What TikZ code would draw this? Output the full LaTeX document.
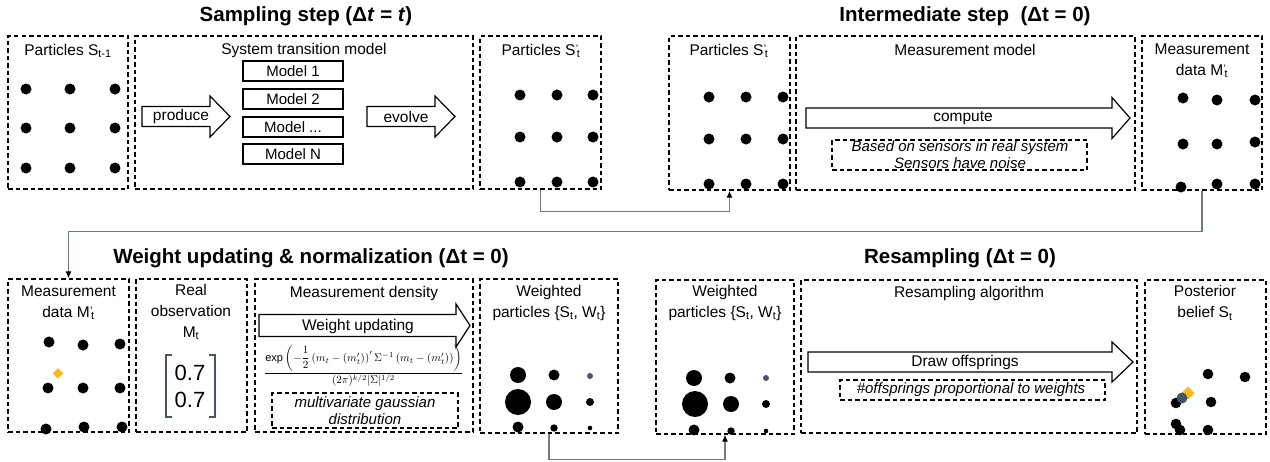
\documentclass[tikz,border=0pt]{standalone}
\usepackage{fontspec}
\setmainfont{Liberation Sans}
\usepackage{graphicx}
\usetikzlibrary{arrows.meta}
\definecolor{slate}{HTML}{44546A}
\definecolor{orng}{HTML}{FFB81C}
\definecolor{conngray}{HTML}{6E7A86}
\newcommand{\primesub}{\kern0.3pt\raisebox{-2.5pt}{\textsuperscript{’}}\kern-1.8pt\textsubscript{t}}
\newcommand{\barrowpath}[6]{\draw[barrow] (#1,#4-#5) -- (#2,#4-#5) -- (#2,#4-#6) -- (#3,#4) -- (#2,#4+#6) -- (#2,#4+#5) -- (#1,#4+#5) -- cycle;}
\newcommand{\dboxat}[5]{\node[dbox,minimum width=#3pt,minimum height=#4pt] (#5) at (#1+#3/2,#2+#4/2) {};}
\newcommand{\sboxat}[5]{\node[sbox,minimum width=#3pt,minimum height=#4pt] (#5) at (#1+#3/2,#2+#4/2) {};}
\begin{document}
\begin{tikzpicture}[x=1pt,y=-1pt,
  dbox/.style={draw, line width=1.3pt, dash pattern=on 4.5pt off 3pt, inner sep=0pt},
  sbox/.style={draw, line width=1.2pt, dash pattern=on 4.5pt off 3pt, inner sep=0pt},
  mbox/.style={draw, line width=1.2pt, inner sep=0pt, minimum width=100pt, minimum height=20pt, font=\fontsize{15}{18}\selectfont},
  barrow/.style={draw, line width=1.2pt, fill=white},
  lbl/.style={inner sep=0pt, align=center, font=\fontsize{15.5}{21}\selectfont},
  ttl/.style={inner sep=0pt, font=\bfseries\fontsize{20.5}{24}\selectfont},
  itl/.style={inner sep=0pt, align=center, font=\itshape\fontsize{15}{17}\selectfont},
  conn/.style={draw=conngray, line width=1.2pt, -{Latex[length=7pt,width=6pt,color=black]}},
  dot/.style={fill=black}
]
\fill[white] (0,0) rectangle (1270,461);
\useasboundingbox (0,0) rectangle (1270,461);

% titles
\node[ttl] (t1) at (306,16) {Sampling step (Δ\textit{t} = \textit{t})};
\node[ttl] (t2) at (965,16) {Intermediate step\ \ (Δt = 0)};
\node[ttl] (t3) at (311,258) {Weight updating \& normalization (Δt = 0)};
\node[ttl] (t4) at (960,258) {Resampling (Δt = 0)};

% top row boxes
\dboxat{8}{36}{120}{153}{A}
\dboxat{135}{36}{338}{153}{B}
\dboxat{480}{36}{121}{153}{C}
\dboxat{669}{36}{121}{154}{D}
\dboxat{796}{36}{339}{154}{E}
\dboxat{1142}{36}{120}{154}{F}
% bottom row boxes
\dboxat{8}{279}{121}{153}{G}
\dboxat{136}{279}{111}{153}{H}
\dboxat{255}{279}{218}{153}{I}
\dboxat{480}{279}{138}{154}{J}
\dboxat{656}{280}{138}{154}{K}
\dboxat{801}{280}{336}{153}{L}
\dboxat{1145}{280}{121}{154}{M}

% headers
\node[lbl] (hA) at (68,51) {Particles S\textsubscript{t-1}};
\node[lbl] (hB) at (304,50) {System transition model};
\node[lbl] (hC) at (541,51) {Particles S\primesub};
\node[lbl] (hD) at (729,51) {Particles S\primesub};
\node[lbl] (hE) at (965,50) {Measurement model};
\node[lbl] (hF) at (1202,61) {Measurement\\data M\primesub};
\node[lbl] (hG) at (68.5,303) {Measurement\\data M\primesub};
\node[lbl] (hH) at (191,312) {Real\\observation\\M\textsubscript{t}};
\node[lbl] (hI) at (364,293) {Measurement density};
\node[lbl] (hJ) at (549,303) {Weighted\\particles \{S\textsubscript{t}, W\textsubscript{t}\}};
\node[lbl] (hK) at (725,303) {Weighted\\particles \{S\textsubscript{t}, W\textsubscript{t}\}};
\node[lbl] (hL) at (969,293) {Resampling algorithm};
\node[lbl] (hM) at (1205,303) {Posterior\\belief S\textsubscript{t}};

% models
\node[mbox] (m1) at (293,71) {Model 1};
\node[mbox] (m2) at (293,99) {Model 2};
\node[mbox] (m3) at (293,127) {Model ...};
\node[mbox] (m4) at (293,154) {Model N};

% block arrows
\barrowpath{142}{210}{230}{116.5}{10}{20.5}
\node[lbl] (aprod) at (181,116.5) {produce};
\barrowpath{367}{435}{455}{116.5}{10}{20.5}
\node[lbl] (aevol) at (406,116.5) {evolve};
\barrowpath{806}{1112}{1130}{118}{10}{20.5}
\node[lbl] (acomp) at (963,118) {compute};
\barrowpath{259}{456}{470}{325.5}{11}{21.5}
\node[lbl] (aweig) at (358,326) {Weight updating};
\barrowpath{808}{1112}{1133}{362}{10}{20}
\node[lbl] (adraw) at (965,362) {Draw offsprings};

% sub boxes
\sboxat{832}{140}{255}{30}{sens}
\node[itl] (tsens) at (960,155) {Based on sensors in real system\\Sensors have noise};
\sboxat{272}{393}{186}{35}{mvg}
\node[itl] (tmvg) at (365,410.5) {multivariate gaussian\\distribution};
\sboxat{840}{380}{265}{20}{offs}
\node[itl] (toffs) at (971,389.5) {\#offsprings proportional to weights};

% formula
\node[inner sep=0pt] (form) at (363.5,366) {\resizebox{199pt}{!}{$\displaystyle\frac{\exp\left(-{\displaystyle\frac{1}{2}}\left(m_t-(m'_t)\right)'\Sigma^{-1}\left(m_t-(m'_t)\right)\right)}{(2\pi)^{k/2}|\Sigma|^{1/2}}$}};

% matrix
\draw[slate, line width=1.2pt] (172,355) -- (166,355) -- (166,417) -- (172,417);
\draw[slate, line width=1.2pt] (209,355) -- (215,355) -- (215,417) -- (209,417);
\node[inner sep=0pt, font=\fontsize{22}{24}\selectfont] (v1) at (190,373) {0.7};
\node[inner sep=0pt, font=\fontsize{22}{24}\selectfont] (v2) at (190,400) {0.7};

% dots A
\foreach \x in {26,70,115} \foreach \y in {89,128,168} \fill[dot] (\x,\y) circle (5.5pt);
% dots C
\foreach \x in {520,557,593} \foreach \y in {95,137,182} \fill[dot] (\x,\y) circle (5.5pt);
% dots D
\foreach \x in {709,746,783} \foreach \y in {97,139,184} \fill[dot] (\x,\y) circle (5.5pt);
% dots F
\foreach \p in {(1183,98),(1217,100),(1255,100),(1183,144),(1217,144),(1255,142),(1181,187),(1217,184),(1255,184)} \fill[dot] \p circle (5.5pt);
% dots G
\foreach \p in {(49,342),(83,345),(120,344),(48,388),(83,388),(120,388),(46,429),(84,427),(122,427)} \fill[dot] \p circle (5.5pt);
\fill[orng] (58,368) -- (63.3,373.3) -- (58,378.6) -- (52.7,373.3) -- cycle;
% dots J
\fill[dot] (518,375) circle (8pt);
\fill[dot] (554,375) circle (5.5pt);
\fill[slate] (590,376) circle (3pt);
\fill[dot] (518,402) circle (13pt);
\fill[dot] (554,402) circle (8pt);
\fill[dot] (590,402) circle (4pt);
\fill[dot] (518,427) circle (5.5pt);
\fill[dot] (554,428) circle (3.7pt);
\fill[dot] (590,428) circle (2.3pt);
% dots K
\fill[dot] (694,378) circle (8pt);
\fill[dot] (730,378) circle (5.5pt);
\fill[slate] (766,378) circle (3pt);
\fill[dot] (695,404) circle (13pt);
\fill[dot] (731,404) circle (8pt);
\fill[dot] (766,404) circle (4pt);
\fill[dot] (694,430) circle (5.5pt);
\fill[dot] (731,431) circle (3.7pt);
\fill[dot] (766,431) circle (2.3pt);
% dots M
\foreach \p in {(1208,374),(1245,377),(1211,402),(1176,403),(1176,424),(1180,430),(1208,430)} \fill[dot] \p circle (5.3pt);
\fill[orng] (1188,386.5) -- (1194.5,393) -- (1188,399.5) -- (1181.5,393) -- cycle;
\fill[slate] (1182,398) circle (5.5pt);

% connectors
\draw[conn] (C.south) -- ++(0,22) -| (D.south);
\draw[conn] (F.south) -- ++(0,41) -| (G.north);
\draw[conn] (J.south) -- ++(0,26) -| (K.south);
\end{tikzpicture}
\end{document}
